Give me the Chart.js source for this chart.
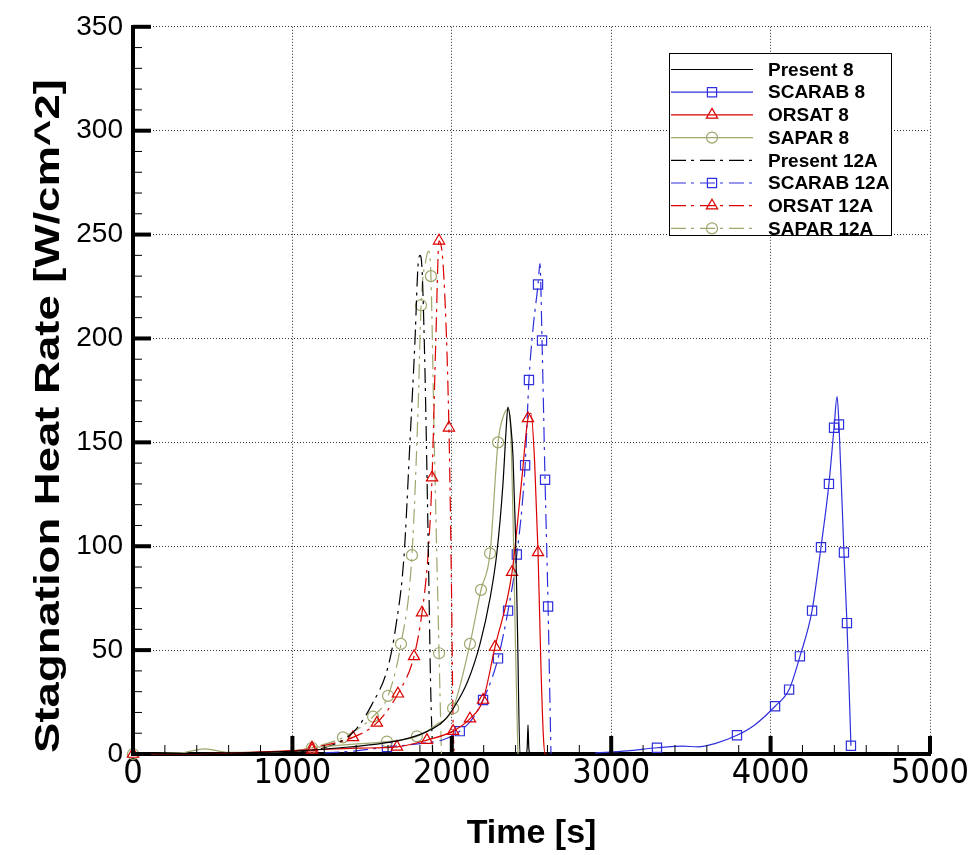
<!DOCTYPE html>
<html>
<head>
<meta charset="utf-8">
<title>Stagnation Heat Rate</title>
<script src="https://cdn.jsdelivr.net/npm/chart.js@4.4.1/dist/chart.umd.min.js"></script>
<style>
  html, body { margin: 0; padding: 0; background: #fff; }
  canvas { display: block; }
</style>
</head>
<body>
<canvas id="heatChart" width="974" height="855"></canvas>
<script>
// values (time [s], heat rate [W/cm^2])
const present8T = [0, 300, 600, 900, 1100, 1300, 1500, 1700, 1850, 1950, 2010, 2100, 2177, 2240, 2283, 2321, 2340, 2352, 2368, 2384, 2400, 2412, 2428, 2465, 2473, 2478, 2483, 2490];
const present8Q = [0, 0.2, 0.5, 1, 1.8, 3, 4.5, 7, 11, 16, 22, 35, 53, 75, 97, 130, 155, 167, 160, 143, 105, 60, 0, 0, 3, 14, 3, 0];

const scarab8T = [2900, 3100, 3287, 3450, 3545, 3650, 3789, 3900, 4028, 4116, 4184, 4260, 4316, 4366, 4398, 4417, 4429, 4460, 4479, 4504];
const scarab8Q = [0.5, 1.5, 3, 3.8, 3.4, 5, 9, 14, 23, 31, 47, 69, 99.5, 130, 157, 172, 158.6, 97, 63, 4];
const scarab8Marks = [3287, 3789, 4028, 4116, 4184, 4260, 4316, 4366, 4398, 4429, 4460, 4479, 4504];

const orsat8T = [0, 500, 1123, 1400, 1656, 1844, 2008, 2114, 2196, 2271, 2378, 2440, 2478, 2497, 2520, 2541, 2560, 2575, 2585, 2595];
const orsat8Q = [0, 0.3, 2, 2.8, 3.4, 6.7, 11, 17, 26, 51.5, 87.5, 133, 161.5, 164, 140, 97, 40, 8, 0, 0];
const orsat8Marks = [0, 1123, 1656, 1844, 2008, 2114, 2196, 2271, 2378, 2478, 2541];

const sapar8T = [0, 300, 450, 600, 800, 1000, 1129, 1350, 1593, 1781, 1900, 2008, 2114, 2183, 2240, 2290, 2325, 2353, 2370, 2385, 2400, 2415];
const sapar8Q = [0, 0.5, 2.5, 0.8, 0.8, 1.5, 3, 4.5, 6, 8.5, 14, 22, 53, 79, 96.6, 150, 163, 166, 155, 110, 50, 0];
const sapar8Marks = [0, 1593, 1781, 2008, 2114, 2183, 2240, 2290];

const present12AT = [1000, 1200, 1300, 1400, 1500, 1600, 1650, 1700, 1738, 1769, 1788, 1800, 1812, 1830, 1850, 1868, 1880];
const present12AQ = [0.5, 3, 6, 12, 24, 42, 62, 95, 151, 199, 235, 240, 235, 190, 110, 30, 0];

const scarab12AT = [1200, 1400, 1593, 1800, 1950, 2050, 2130, 2196, 2250, 2290, 2353, 2408, 2460, 2484, 2510, 2541, 2553, 2566, 2585, 2604, 2622];
const scarab12AQ = [0.5, 1.5, 3.4, 5, 7, 11, 17, 26, 36, 46, 69, 96, 139, 180, 205, 226, 236, 199, 132, 71, 0];
const scarab12AMarks = [1593, 2050, 2196, 2290, 2353, 2408, 2460, 2484, 2541, 2566, 2585, 2604];

const orsat12AT = [1000, 1123, 1250, 1380, 1530, 1662, 1763, 1813, 1850, 1876, 1900, 1920, 1950, 1982, 1998, 2008, 2015];
const orsat12AQ = [1, 3, 5, 8, 15, 29, 47, 68, 95, 133, 200, 247, 230, 157, 80, 15, 0];
const orsat12AMarks = [1123, 1380, 1530, 1662, 1763, 1813, 1876, 1920, 1982];

const sapar12AT = [1000, 1123, 1317, 1506, 1600, 1681, 1750, 1790, 1807, 1838, 1855, 1869, 1890, 1920, 1935];
const sapar12AQ = [1, 3, 8, 18, 28, 53, 95.7, 170, 216, 238, 242, 230, 150, 48.5, 0];
const sapar12AMarks = [1123, 1317, 1506, 1600, 1681, 1750, 1807, 1869, 1920];

const xTicks = [0, 1000, 2000, 3000, 4000, 5000];
const yTicks = [0, 50, 100, 150, 200, 250, 300, 350];

const BLUE = '#2f2fdc';
const RED = '#dc0000';
const OLIVE = '#a0a66c';
const DASHDOT = [15, 5, 3, 6];

function series(label, ts, qs, marks, color, dash, style) {
    return {
        label: label,
        data: ts.map((t, i) => ({ x: t, y: qs[i] })),
        showLine: true,
        borderColor: color,
        borderWidth: 1.2,
        borderDash: dash,
        cubicInterpolationMode: 'monotone',
        pointStyle: style || 'circle',
        pointRadius: ctx => (marks && marks.includes(ts[ctx.dataIndex])) ? (style === 'circle' ? 5.5 : 6.5) : 0,
        pointBorderColor: color,
        pointBackgroundColor: 'rgba(0,0,0,0)',
        pointBorderWidth: 1.2,
        pointHoverRadius: 0,
        clip: false,
        hasMarks: !!marks
    };
}

// inward minor/major ticks like the original plot package
const axisMarks = {
    id: 'axisMarks',
    afterDraw(chart) {
        const { ctx, chartArea: a, scales: { x, y } } = chart;
        ctx.save();
        ctx.strokeStyle = '#000';
        for (let t = 0; t <= 5000; t += 200) {
            const px = x.getPixelForValue(t);
            const major = t % 1000 === 0;
            ctx.lineWidth = major ? 4 : 1;
            ctx.beginPath();
            ctx.moveTo(px, a.bottom);
            ctx.lineTo(px, a.bottom - (major ? 18 : 9));
            ctx.stroke();
        }
        for (let q = 0; q <= 350; q += 10) {
            const py = y.getPixelForValue(q);
            const major = q % 50 === 0;
            ctx.lineWidth = major ? 4 : 1;
            ctx.beginPath();
            ctx.moveTo(a.left, py);
            ctx.lineTo(a.left + (major ? 18 : 9), py);
            ctx.stroke();
        }
        ctx.restore();
    }
};

// stretched vertical axis title
const yTitle = {
    id: 'yTitle',
    afterDraw(chart) {
        const ctx = chart.ctx;
        ctx.save();
        ctx.translate(49, 416);
        ctx.rotate(-Math.PI / 2);
        ctx.scale(1.3, 1);
        ctx.font = 'bold 35px "Liberation Sans", Arial, sans-serif';
        ctx.fillStyle = '#000';
        ctx.textAlign = 'center';
        ctx.textBaseline = 'middle';
        ctx.fillText('Stagnation Heat Rate [W/cm^2]', 0, 0);
        ctx.restore();
    }
};

// boxed legend with line samples and symbols
const boxLegend = {
    id: 'boxLegend',
    afterDraw(chart) {
        const ctx = chart.ctx;
        const left = 669, top = 53, w = 222, h = 182;
        ctx.save();
        ctx.fillStyle = '#fff';
        ctx.fillRect(left, top, w, h);
        ctx.strokeStyle = '#000';
        ctx.lineWidth = 1;
        ctx.strokeRect(left + 0.5, top + 0.5, w, h);
        chart.data.datasets.forEach((ds, i) => {
            const yy = 69.5 + i * 22.7;
            ctx.strokeStyle = ds.borderColor;
            ctx.lineWidth = 1.2;
            ctx.setLineDash(ds.borderDash || []);
            ctx.beginPath();
            ctx.moveTo(671, yy);
            ctx.lineTo(753, yy);
            ctx.stroke();
            ctx.setLineDash([]);
            if (ds.hasMarks) {
                ctx.fillStyle = 'rgba(0,0,0,0)';
                ctx.strokeStyle = ds.borderColor;
                ctx.lineWidth = 1.2;
                Chart.helpers.drawPoint(ctx, {
                    pointStyle: ds.pointStyle,
                    radius: ds.pointStyle === 'circle' ? 5.5 : 6.5,
                    borderWidth: 1.2,
                    rotation: 0
                }, 712, yy);
            }
            ctx.fillStyle = '#000';
            ctx.font = 'bold 19px "Liberation Sans", Arial, sans-serif';
            ctx.textAlign = 'left';
            ctx.textBaseline = 'middle';
            ctx.fillText(ds.label, 768, yy + 1);
        });
        ctx.restore();
    }
};

const datasets = [
    series('Present 8', present8T, present8Q, null, '#000', []),
    series('SCARAB 8', scarab8T, scarab8Q, scarab8Marks, BLUE, [], 'rect'),
    series('ORSAT 8', orsat8T, orsat8Q, orsat8Marks, RED, [], 'triangle'),
    series('SAPAR 8', sapar8T, sapar8Q, sapar8Marks, OLIVE, [], 'circle'),
    series('Present 12A', present12AT, present12AQ, null, '#000', DASHDOT),
    series('SCARAB 12A', scarab12AT, scarab12AQ, scarab12AMarks, BLUE, DASHDOT, 'rect'),
    series('ORSAT 12A', orsat12AT, orsat12AQ, orsat12AMarks, RED, DASHDOT, 'triangle'),
    series('SAPAR 12A', sapar12AT, sapar12AQ, sapar12AMarks, OLIVE, DASHDOT, 'circle')
];

new Chart(document.getElementById('heatChart'), {
    type: 'scatter',
    data: { datasets: datasets },
    options: {
        responsive: false,
        animation: false,
        events: [],
        layout: { padding: { top: 26, right: 44, left: 0, bottom: 0 } },
        plugins: {
            legend: { display: false },
            tooltip: { enabled: false }
        },
        scales: {
            x: {
                type: 'linear',
                min: 0,
                max: 5000,
                afterFit: s => { s.height = 101; },
                afterBuildTicks: s => { s.ticks = xTicks.map(v => ({ value: v })); },
                ticks: {
                    color: '#000',
                    padding: 0,
                    maxRotation: 0,
                    callback: v => String(v),
                    font: { family: '"DejaVu Sans Condensed", "Liberation Sans", Arial, sans-serif', size: 34 }
                },
                grid: { color: '#333', lineWidth: 1, drawTicks: false },
                border: { display: true, color: '#000', width: 4, dash: [1, 2] },
                title: {
                    display: true,
                    text: 'Time [s]',
                    color: '#000',
                    padding: { top: 0, bottom: 1 },
                    font: { family: '"Liberation Sans", Arial, sans-serif', size: 34, weight: 'bold' }
                }
            },
            y: {
                type: 'linear',
                min: 0,
                max: 350,
                afterFit: s => { s.width = 133; },
                afterBuildTicks: s => { s.ticks = yTicks.map(v => ({ value: v })); },
                ticks: {
                    color: '#000',
                    padding: 10,
                    callback: v => String(v),
                    font: { family: '"Liberation Sans", Arial, sans-serif', size: 28 }
                },
                grid: { color: '#333', lineWidth: 1, drawTicks: false },
                border: { display: true, color: '#000', width: 4, dash: [1, 2] }
            }
        }
    },
    plugins: [axisMarks, yTitle, boxLegend]
});
</script>
</body>
</html>
